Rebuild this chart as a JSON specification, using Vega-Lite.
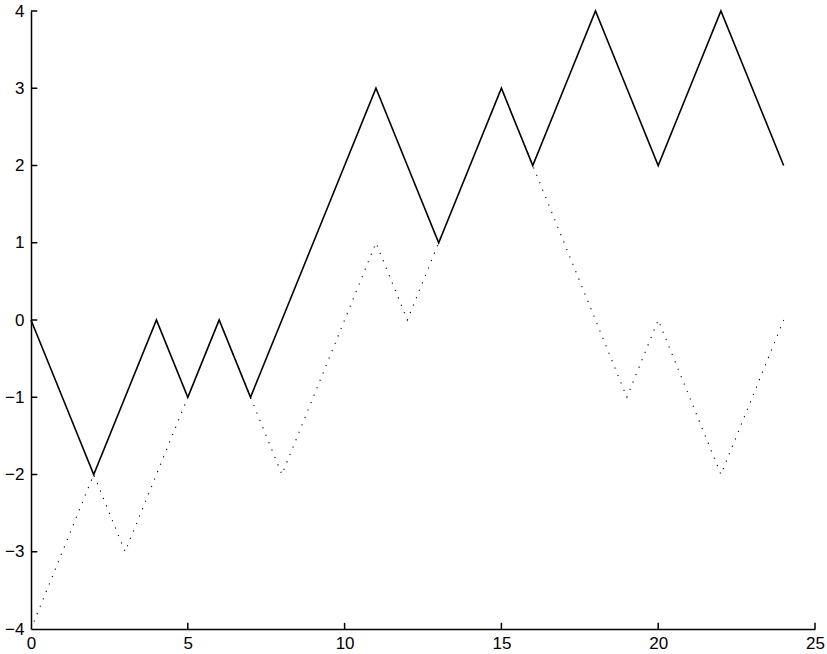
{
  "$schema": "https://vega.github.io/schema/vega-lite/v6.json",
  "width": 784,
  "height": 618,
  "autosize": {"type": "none"},
  "padding": {"left": 31, "top": 11, "right": 12, "bottom": 25},
  "background": "white",
  "config": {"view": {"stroke": null}},
  "datasets": {
    "walk": [
      {"t":0,"solid":0,"dotted":-4},{"t":1,"solid":-1,"dotted":-3},{"t":2,"solid":-2,"dotted":-2},
      {"t":3,"solid":-1,"dotted":-3},{"t":4,"solid":0,"dotted":-2},{"t":5,"solid":-1,"dotted":-1},
      {"t":6,"solid":0,"dotted":0},{"t":7,"solid":-1,"dotted":-1},{"t":8,"solid":0,"dotted":-2},
      {"t":9,"solid":1,"dotted":-1},{"t":10,"solid":2,"dotted":0},{"t":11,"solid":3,"dotted":1},
      {"t":12,"solid":2,"dotted":0},{"t":13,"solid":1,"dotted":1},{"t":14,"solid":2,"dotted":2},
      {"t":15,"solid":3,"dotted":3},{"t":16,"solid":2,"dotted":2},{"t":17,"solid":3,"dotted":1},
      {"t":18,"solid":4,"dotted":0},{"t":19,"solid":3,"dotted":-1},{"t":20,"solid":2,"dotted":0},
      {"t":21,"solid":3,"dotted":-1},{"t":22,"solid":4,"dotted":-2},{"t":23,"solid":3,"dotted":-1},
      {"t":24,"solid":2,"dotted":0}
    ],
    "xticks": [{"v":5},{"v":10},{"v":15},{"v":20},{"v":25}],
    "yticks": [{"v":-3},{"v":-2},{"v":-1},{"v":0},{"v":1},{"v":2},{"v":3},{"v":4}]
  },
  "layer": [
    {
      "data": {"name": "walk"},
      "mark": {"type": "line", "color": "black", "strokeWidth": 1.1, "strokeDash": [1.2, 6.8]},
      "encoding": {
        "x": {"field": "t", "type": "quantitative",
          "scale": {"domain": [0, 25], "nice": false, "zero": false},
          "axis": {"title": null, "values": [0,5,10,15,20,25], "format": "d", "grid": false,
            "domainColor": "black", "domainWidth": 1.5, "ticks": false,
            "labelPadding": 6, "labelFont": "Liberation Sans", "labelFontSize": 17,
            "labelColor": "black", "labelFlush": false, "labelOverlap": false}},
        "y": {"field": "dotted", "type": "quantitative",
          "scale": {"domain": [-4, 4], "nice": false, "zero": false},
          "axis": {"title": null, "values": [-4,-3,-2,-1,0,1,2,3,4], "format": "d", "grid": false,
            "domainColor": "black", "domainWidth": 1.5, "ticks": false,
            "labelPadding": 7, "labelFont": "Liberation Sans", "labelFontSize": 17,
            "labelColor": "black", "labelFlush": false, "labelOverlap": false}}
      }
    },
    {
      "data": {"name": "walk"},
      "mark": {"type": "line", "color": "black", "strokeWidth": 1.6},
      "encoding": {
        "x": {"field": "t", "type": "quantitative"},
        "y": {"field": "solid", "type": "quantitative"}
      }
    },
    {
      "data": {"name": "xticks"},
      "mark": {"type": "rule", "color": "black", "strokeWidth": 1.5},
      "encoding": {
        "x": {"field": "v", "type": "quantitative"},
        "y": {"datum": -4},
        "y2": {"datum": -3.92}
      }
    },
    {
      "data": {"name": "yticks"},
      "mark": {"type": "rule", "color": "black", "strokeWidth": 1.5},
      "encoding": {
        "y": {"field": "v", "type": "quantitative"},
        "x": {"datum": 0},
        "x2": {"datum": 0.2}
      }
    }
  ]
}
